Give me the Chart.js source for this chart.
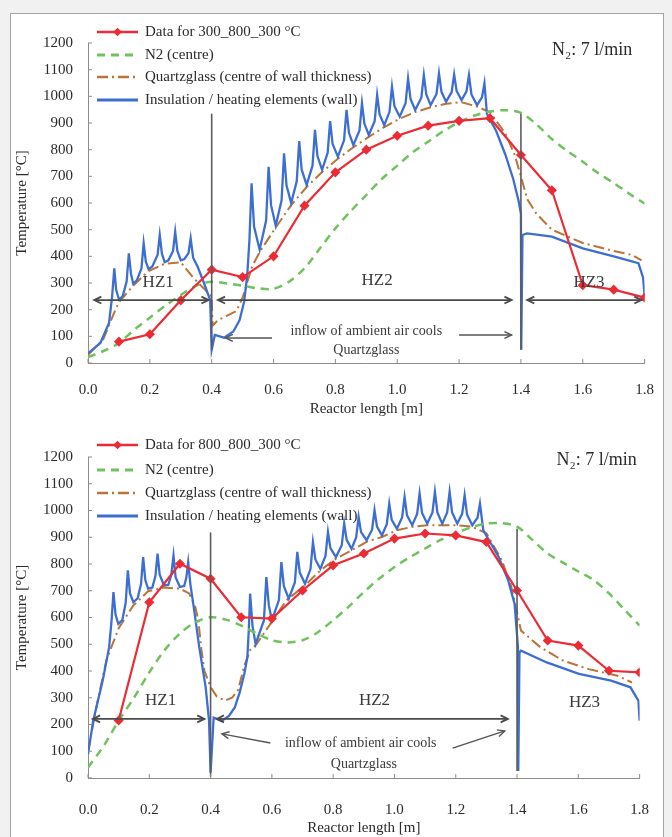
<!DOCTYPE html>
<html>
<head>
<meta charset="utf-8">
<script src="https://cdn.jsdelivr.net/npm/chart.js@4.4.1/dist/chart.umd.min.js"></script>
<style>
  html, body { margin: 0; padding: 0; background: #f1f1f1; }
  #page { position: relative; width: 672px; height: 837px; overflow: hidden; }
  #frame { position: absolute; left: 10px; top: 13px; width: 652px; height: 840px; border: 1px solid #a3a3a3; background: #fff; }
  canvas { position: absolute; left: 0; }
  #topChart { top: 0; }
  #botChart { top: 418px; }
</style>
</head>
<body>
<div id="page">
  <div id="frame"></div>
  <canvas id="topChart" width="672" height="418"></canvas>
  <canvas id="botChart" width="672" height="419"></canvas>
</div>
<script>
// axes
const xTicks = [0, 0.2, 0.4, 0.6, 0.8, 1.0, 1.2, 1.4, 1.6, 1.8];
const yTicks = [0, 100, 200, 300, 400, 500, 600, 700, 800, 900, 1000, 1100, 1200];

// measured points (reactor length in m)
const dataX = [0.1, 0.2, 0.3, 0.4, 0.5, 0.6, 0.7, 0.8, 0.9, 1.0, 1.1, 1.2, 1.3, 1.4, 1.5, 1.6, 1.7, 1.8];

// ---- upper chart: 300_800_300 °C ----
const topLabels = [
  "Data for 300_800_300 °C",
  "N2 (centre)",
  "Quartzglass (centre of wall thickness)",
  "Insulation / heating elements (wall)"
];
const topMeasured = [80, 108, 235, 350, 322, 400, 590, 715, 800, 852, 890, 908, 918, 780, 648, 292, 275, 245];
const topN2 = [
  [0, 22], [0.05, 45], [0.1, 75], [0.15, 125], [0.2, 170], [0.25, 215], [0.3, 255], [0.35, 290], [0.4, 305],
  [0.45, 298], [0.5, 290], [0.55, 280], [0.6, 278], [0.65, 305], [0.7, 355], [0.75, 430], [0.8, 505], [0.85, 570],
  [0.9, 630], [0.95, 690], [1.0, 740], [1.05, 790], [1.1, 830], [1.15, 870], [1.2, 903], [1.25, 928], [1.3, 943],
  [1.35, 948], [1.4, 938], [1.45, 895], [1.5, 840], [1.55, 795], [1.6, 755], [1.65, 712], [1.7, 675], [1.75, 635], [1.8, 598]
];
const topQuartz = [
  [0, 30], [0.05, 90], [0.085, 190], [0.1, 228], [0.146, 290], [0.196, 345], [0.248, 372], [0.3, 378], [0.34, 320],
  [0.37, 285], [0.4, 250], [0.403, 140], [0.42, 160], [0.45, 178], [0.48, 195], [0.5, 245], [0.53, 360], [0.556, 418],
  [0.607, 508], [0.657, 592], [0.707, 660], [0.757, 716], [0.808, 766], [0.858, 809], [0.908, 848], [0.958, 885],
  [1.008, 916], [1.058, 941], [1.108, 959], [1.158, 972], [1.208, 978], [1.258, 962], [1.3, 940], [1.35, 860],
  [1.38, 780], [1.4, 700], [1.42, 615], [1.45, 560], [1.5, 500], [1.6, 450], [1.7, 420], [1.76, 405], [1.79, 385]
];
const topWall = [
  [0.000, 36], [0.040, 75], [0.068, 150], [0.078, 250], [0.085, 355], [0.091, 275], [0.100, 238], [0.112, 250],
  [0.125, 305], [0.132, 411], [0.139, 335], [0.146, 298], [0.158, 310], [0.173, 355], [0.180, 449], [0.187, 380],
  [0.196, 352], [0.208, 362], [0.225, 405], [0.232, 480], [0.239, 410], [0.248, 378], [0.260, 385], [0.275, 420],
  [0.282, 492], [0.289, 420], [0.300, 385], [0.312, 390], [0.325, 412], [0.332, 467], [0.340, 395], [0.355, 360],
  [0.375, 300], [0.395, 236], [0.400, 50], [0.410, 105], [0.440, 95], [0.470, 118], [0.490, 160], [0.505, 230],
  [0.515, 330], [0.522, 460], [0.529, 674], [0.537, 512], [0.555, 425], [0.576, 534], [0.584, 736], [0.592, 592],
  [0.607, 515], [0.626, 610], [0.634, 786], [0.642, 665], [0.657, 600], [0.675, 681], [0.683, 832], [0.691, 725],
  [0.707, 668], [0.726, 740], [0.734, 874], [0.742, 776], [0.757, 724], [0.775, 788], [0.783, 907], [0.791, 821],
  [0.808, 774], [0.828, 835], [0.836, 949], [0.844, 863], [0.858, 817], [0.878, 872], [0.886, 974], [0.894, 897],
  [0.908, 855], [0.927, 907], [0.935, 1005], [0.943, 932], [0.958, 892], [0.975, 942], [0.983, 1036], [0.991, 963],
  [1.008, 924], [1.027, 974], [1.035, 1067], [1.043, 990], [1.058, 949], [1.078, 995], [1.086, 1080], [1.094, 1007],
  [1.108, 967], [1.127, 1009], [1.135, 1086], [1.143, 1017], [1.158, 980], [1.176, 1016], [1.184, 1082], [1.192, 1020],
  [1.208, 986], [1.224, 1019], [1.232, 1080], [1.240, 1007], [1.258, 967], [1.274, 996], [1.282, 1049], [1.290, 935],
  [1.320, 870], [1.350, 780], [1.375, 690], [1.392, 610], [1.400, 560], [1.401, 50], [1.405, 480], [1.420, 486],
  [1.500, 474], [1.600, 430], [1.700, 400], [1.780, 374], [1.795, 320], [1.800, 250]
];

// ---- lower chart: 800_800_300 °C ----
const botLabels = [
  "Data for 800_800_300 °C",
  "N2 (centre)",
  "Quartzglass (centre of wall thickness)",
  "Insulation / heating elements (wall)"
];
const botMeasured = [215, 657, 801, 745, 601, 596, 701, 795, 839, 895, 914, 907, 882, 701, 514, 495, 401, 395];
const botN2 = [
  [0, 39], [0.05, 118], [0.1, 214], [0.15, 300], [0.2, 395], [0.25, 478], [0.3, 540], [0.35, 582], [0.4, 601],
  [0.45, 592], [0.5, 570], [0.55, 540], [0.6, 515], [0.65, 507], [0.7, 515], [0.75, 545], [0.8, 590], [0.85, 640],
  [0.9, 695], [0.95, 745], [1.0, 789], [1.05, 825], [1.1, 858], [1.15, 890], [1.2, 915], [1.25, 937], [1.3, 951],
  [1.35, 953], [1.4, 940], [1.45, 890], [1.5, 839], [1.55, 805], [1.6, 772], [1.65, 740], [1.7, 690], [1.75, 630], [1.8, 570]
];
const botQuartz = [
  [0, 100], [0.03, 280], [0.06, 440], [0.1, 560], [0.148, 645], [0.196, 698], [0.248, 712], [0.3, 708], [0.33, 690],
  [0.35, 640], [0.36, 590], [0.37, 480], [0.38, 400], [0.4, 340], [0.42, 305], [0.447, 289], [0.47, 300], [0.49, 330],
  [0.51, 420], [0.53, 480], [0.547, 496], [0.6, 584], [0.647, 664], [0.708, 720], [0.758, 776], [0.809, 820],
  [0.86, 851], [0.909, 883], [0.959, 901], [1.008, 926], [1.058, 939], [1.107, 945], [1.156, 945], [1.205, 945],
  [1.254, 939], [1.3, 915], [1.35, 815], [1.38, 720], [1.4, 620], [1.413, 551], [1.476, 489], [1.55, 439], [1.634, 407],
  [1.728, 382], [1.775, 357]
];
const botWall = [
  [0.000, 89], [0.017, 214], [0.048, 364], [0.069, 489], [0.077, 590], [0.083, 695], [0.090, 610], [0.099, 576],
  [0.112, 590], [0.123, 655], [0.130, 776], [0.137, 690], [0.148, 657], [0.162, 672], [0.173, 725], [0.180, 826],
  [0.187, 740], [0.196, 708], [0.210, 712], [0.220, 755], [0.227, 839], [0.234, 760], [0.248, 720], [0.262, 722],
  [0.272, 760], [0.279, 832], [0.286, 750], [0.300, 714], [0.314, 718], [0.321, 750], [0.327, 807], [0.334, 725],
  [0.345, 640], [0.363, 489], [0.384, 339], [0.395, 214], [0.400, 20], [0.410, 226], [0.437, 214], [0.460, 232],
  [0.479, 264], [0.495, 320], [0.510, 389], [0.520, 451], [0.525, 560], [0.529, 689], [0.537, 567], [0.547, 501],
  [0.574, 589], [0.582, 751], [0.590, 646], [0.600, 589], [0.623, 665], [0.631, 807], [0.639, 718], [0.655, 670],
  [0.675, 731], [0.683, 845], [0.691, 768], [0.708, 726], [0.726, 781], [0.734, 882], [0.742, 817], [0.758, 782],
  [0.775, 830], [0.783, 920], [0.791, 859], [0.809, 826], [0.828, 870], [0.836, 951], [0.844, 890], [0.860, 857],
  [0.875, 899], [0.883, 976], [0.891, 919], [0.909, 889], [0.927, 928], [0.935, 1001], [0.943, 940], [0.959, 907],
  [0.975, 949], [0.983, 1026], [0.991, 965], [1.008, 932], [1.025, 974], [1.033, 1051], [1.041, 982], [1.058, 945],
  [1.074, 987], [1.082, 1064], [1.090, 991], [1.107, 951], [1.124, 993], [1.132, 1070], [1.140, 993], [1.156, 951],
  [1.172, 993], [1.180, 1070], [1.188, 993], [1.205, 951], [1.221, 988], [1.229, 1057], [1.237, 984], [1.254, 945],
  [1.271, 973], [1.279, 1026], [1.290, 926], [1.340, 826], [1.371, 739], [1.392, 651], [1.403, 489], [1.404, 26],
  [1.408, 470], [1.413, 476], [1.497, 432], [1.602, 389], [1.707, 364], [1.770, 339], [1.796, 289], [1.800, 214]
];

const SERIF = "'Liberation Serif', 'DejaVu Serif', serif";
const TEXT = "#2b2b2b";
const AXIS = "#8c8c8c";
const COLORS = { data: "#ec2b35", n2: "#6fc25e", quartz: "#bb7433", wall: "#3d6ed2" };

const toPoints = (list) => list.map(([x, y]) => ({ x, y }));

function buildDatasets(labels, measured, n2, quartz, wall) {
  return [
    {
      label: labels[0], order: 1,
      data: dataX.map((x, i) => ({ x, y: measured[i] })),
      borderColor: COLORS.data, backgroundColor: COLORS.data, borderWidth: 2.2,
      pointStyle: "rectRot", pointRadius: 3.5, showLine: true
    },
    {
      label: labels[1], order: 2,
      data: toPoints(n2),
      borderColor: COLORS.n2, borderWidth: 2.5, borderDash: [8, 6],
      pointRadius: 0, showLine: true, tension: 0.3
    },
    {
      label: labels[2], order: 4,
      data: toPoints(quartz),
      borderColor: COLORS.quartz, borderWidth: 2, borderDash: [11, 4, 2, 4],
      pointRadius: 0, showLine: true
    },
    {
      label: labels[3], order: 3,
      data: toPoints(wall),
      borderColor: COLORS.wall, borderWidth: 2.3,
      pointRadius: 0, showLine: true
    }
  ];
}

function arrowHead(ctx, fx, fy, tx, ty) {
  const a = Math.atan2(ty - fy, tx - fx);
  const len = 8, spread = 0.45;
  ctx.beginPath();
  ctx.moveTo(tx - len * Math.cos(a - spread), ty - len * Math.sin(a - spread));
  ctx.lineTo(tx, ty);
  ctx.lineTo(tx - len * Math.cos(a + spread), ty - len * Math.sin(a + spread));
  ctx.stroke();
}

const overlay = {
  id: "overlay",
  afterDatasetsDraw(chart, args, opts) {
    const { ctx, chartArea: area } = chart;
    const xs = chart.scales.x, ys = chart.scales.y;
    const X = (v) => xs.getPixelForValue(v);
    const Y = (v) => ys.getPixelForValue(v);
    ctx.save();

    // zone boundaries
    ctx.strokeStyle = "#5c5c5c";
    ctx.lineWidth = 1.6;
    opts.bounds.forEach((b) => {
      ctx.beginPath();
      ctx.moveTo(X(b.x), Y(b.from));
      ctx.lineTo(X(b.x), Y(b.to));
      ctx.stroke();
    });

    // heating zone arrows
    ctx.strokeStyle = "#4a4a4a";
    ctx.lineWidth = 1.8;
    opts.zones.forEach((z) => {
      const y = Y(z.y);
      ctx.beginPath();
      ctx.moveTo(X(z.from), y);
      ctx.lineTo(X(z.to), y);
      ctx.stroke();
      arrowHead(ctx, X(z.to), y, X(z.from), y);
      arrowHead(ctx, X(z.from), y, X(z.to), y);
    });

    ctx.fillStyle = "#3a3a3a";
    ctx.textAlign = "center";
    ctx.textBaseline = "middle";
    ctx.font = `17px ${SERIF}`;
    opts.zoneLabels.forEach((z) => ctx.fillText(z.text, X(z.x), Y(z.y)));

    // inflow note
    ctx.font = `14px ${SERIF}`;
    opts.note.lines.forEach((l) => ctx.fillText(l.text, X(l.x), Y(l.y)));
    ctx.lineWidth = 1.4;
    ctx.strokeStyle = "#555";
    opts.note.arrows.forEach((a) => {
      ctx.beginPath();
      ctx.moveTo(X(a.x1), Y(a.y1));
      ctx.lineTo(X(a.x2), Y(a.y2));
      ctx.stroke();
      arrowHead(ctx, X(a.x1), Y(a.y1), X(a.x2), Y(a.y2));
    });

    // flow label
    ctx.fillStyle = TEXT;
    ctx.font = `18px ${SERIF}`;
    ctx.fillText(opts.flow.text, X(opts.flow.x), Y(opts.flow.y));

    // inner tick marks
    ctx.strokeStyle = AXIS;
    ctx.lineWidth = 1;
    xTicks.forEach((v) => {
      ctx.beginPath();
      ctx.moveTo(X(v), area.bottom);
      ctx.lineTo(X(v), area.bottom - 4);
      ctx.stroke();
    });
    yTicks.forEach((v) => {
      ctx.beginPath();
      ctx.moveTo(area.left, Y(v));
      ctx.lineTo(area.left + 4, Y(v));
      ctx.stroke();
    });

    // axis titles
    ctx.fillStyle = TEXT;
    ctx.font = `15px ${SERIF}`;
    ctx.fillText("Reactor length [m]", (area.left + area.right) / 2, area.bottom + opts.xTitleGap);
    ctx.save();
    ctx.translate(22, (area.top + area.bottom) / 2);
    ctx.rotate(-Math.PI / 2);
    ctx.fillText("Temperature [°C]", 0, 0);
    ctx.restore();

    // legend
    ctx.textAlign = "left";
    ctx.font = `15px ${SERIF}`;
    chart.data.datasets.forEach((ds, i) => {
      const y = opts.legendRows[i];
      ctx.save();
      ctx.strokeStyle = ds.borderColor;
      ctx.lineWidth = ds.borderWidth + 0.5;
      ctx.setLineDash(ds.borderDash || []);
      ctx.beginPath();
      ctx.moveTo(97, y);
      ctx.lineTo(138, y);
      ctx.stroke();
      ctx.restore();
      if (ds.pointRadius) {
        ctx.save();
        ctx.fillStyle = ds.borderColor;
        ctx.translate(117.5, y);
        ctx.rotate(Math.PI / 4);
        ctx.fillRect(-3, -3, 6, 6);
        ctx.restore();
      }
      ctx.fillStyle = TEXT;
      ctx.fillText(ds.label, 145, y);
    });

    ctx.restore();
  }
};

function makeChart(id, datasets, frame, overlayOpts) {
  const canvas = document.getElementById(id);
  return new Chart(canvas, {
    type: "scatter",
    data: { datasets },
    plugins: [overlay],
    options: {
      responsive: false,
      animation: false,
      events: [],
      layout: { padding: { top: frame.top, right: 12, left: 0, bottom: 0 } },
      plugins: { legend: { display: false }, tooltip: { enabled: false }, overlay: overlayOpts },
      scales: {
        x: {
          type: "linear", min: 0, max: 1.8,
          afterBuildTicks: (s) => { s.ticks = xTicks.map((value) => ({ value })); },
          afterFit: (s) => { s.height = canvas.height - frame.bottom; },
          border: { color: AXIS, width: 1 },
          grid: { display: false, drawTicks: false },
          ticks: { color: TEXT, padding: frame.xPad, font: { family: SERIF, size: 15 }, callback: (v) => Number(v).toFixed(1) }
        },
        y: {
          type: "linear", min: 0, max: 1200,
          afterBuildTicks: (s) => { s.ticks = yTicks.map((value) => ({ value })); },
          afterFit: (s) => { s.width = 88; },
          border: { color: AXIS, width: 1 },
          grid: { display: false, drawTicks: false },
          ticks: { color: TEXT, padding: 15, font: { family: SERIF, size: 15 }, callback: (v) => String(v) }
        }
      }
    }
  });
}

makeChart("topChart",
  buildDatasets(topLabels, topMeasured, topN2, topQuartz, topWall),
  { top: 43, bottom: 363, xPad: 18 },
  {
    legendRows: [32, 55, 77, 100],
    xTitleGap: 46,
    bounds: [{ x: 0.4, from: 50, to: 935 }, { x: 1.4, from: 50, to: 935 }],
    zones: [{ from: 0.02, to: 0.39, y: 236 }, { from: 0.42, to: 1.37, y: 236 }, { from: 1.42, to: 1.79, y: 236 }],
    zoneLabels: [{ text: "HZ1", x: 0.227, y: 303 }, { text: "HZ2", x: 0.935, y: 311 }, { text: "HZ3", x: 1.62, y: 303 }],
    note: {
      lines: [{ text: "inflow of ambient air cools", x: 0.9, y: 117 }, { text: "Quartzglass", x: 0.9, y: 49 }],
      arrows: [{ x1: 0.595, y1: 94, x2: 0.445, y2: 94 }, { x1: 1.2, y1: 105, x2: 1.37, y2: 105 }]
    },
    flow: { text: "N₂: 7 l/min", x: 1.63, y: 1173 }
  });

makeChart("botChart",
  buildDatasets(botLabels, botMeasured, botN2, botQuartz, botWall),
  { top: 39, bottom: 360, xPad: 23 },
  {
    legendRows: [27, 52, 75, 98],
    xTitleGap: 50,
    bounds: [{ x: 0.4, from: 5, to: 918 }, { x: 1.4, from: 26, to: 932 }],
    zones: [{ from: 0.016, to: 0.38, y: 221 }, { from: 0.42, to: 1.37, y: 221 }],
    zoneLabels: [{ text: "HZ1", x: 0.237, y: 289 }, { text: "HZ2", x: 0.935, y: 289 }, { text: "HZ3", x: 1.62, y: 281 }],
    note: {
      lines: [{ text: "inflow of ambient air cools", x: 0.89, y: 128 }, { text: "Quartzglass", x: 0.9, y: 52 }],
      arrows: [{ x1: 0.595, y1: 131, x2: 0.437, y2: 165 }, { x1: 1.19, y1: 112, x2: 1.36, y2: 176 }]
    },
    flow: { text: "N₂: 7 l/min", x: 1.66, y: 1189 }
  });
</script>
</body>
</html>
